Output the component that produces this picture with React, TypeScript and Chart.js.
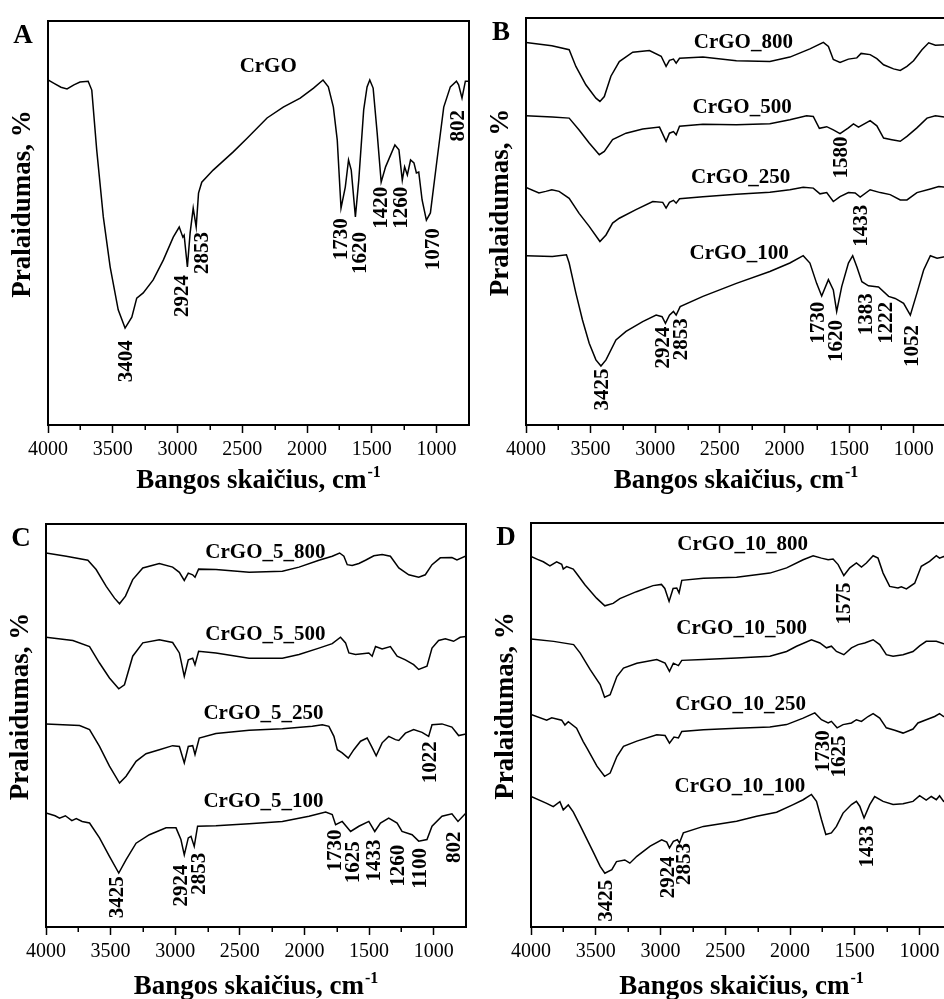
import React, { useEffect, useRef } from "react";
import { Chart, registerables } from "chart.js";

Chart.register(...registerables);

type Pt = [number, number];

// ---------- Panel A ----------
const A_CRGO: Pt[] = [
  [4000, 85.4], [3950, 84.5], [3900, 83.6], [3853, 83.2], [3800, 84.2], [3753, 84.9], [3690, 85.1], [3662, 82.9],
  [3624, 68.1], [3573, 51.5], [3520, 39.1], [3458, 28.5], [3405, 24.0], [3353, 26.7], [3315, 31.4],
  [3265, 32.7], [3188, 35.9], [3110, 40.8], [3033, 46.5], [2987, 49.0], [2959, 46.5], [2949, 47.0],
  [2924, 39.1], [2903, 47.5], [2879, 53.7], [2856, 49.0], [2838, 57.4], [2813, 60.1], [2725, 63.1],
  [2570, 67.6], [2463, 71.0], [2309, 76.0], [2184, 78.7], [2053, 80.9], [1950, 83.4], [1877, 85.4],
  [1836, 83.7], [1797, 78.7], [1767, 70.5], [1738, 53.7], [1705, 58.9], [1680, 65.6], [1659, 63.1],
  [1627, 51.5], [1601, 60.6], [1563, 78.0], [1537, 83.7], [1516, 85.4], [1490, 83.4], [1459, 72.3],
  [1428, 60.1], [1394, 63.9], [1322, 69.3], [1291, 68.1], [1265, 60.6], [1247, 63.9], [1226, 61.9],
  [1201, 65.6], [1175, 64.9], [1156, 62.4], [1138, 62.6], [1112, 55.7], [1079, 50.7], [1048, 52.5],
  [997, 65.6], [945, 78.7], [894, 83.7], [847, 85.1], [830, 84.2], [804, 80.9], [778, 85.1], [750, 85.1],
];

// ---------- Panel B ----------
const B_800: Pt[] = [
  [4000, 94.0], [3800, 93.2], [3666, 92.2], [3614, 88.1], [3537, 83.6], [3459, 80.3], [3428, 79.5],
  [3394, 80.7], [3343, 85.7], [3278, 89.3], [3174, 91.6], [3045, 92.0], [2954, 90.6], [2916, 88.1],
  [2890, 89.6], [2859, 89.9], [2838, 88.9], [2812, 90.1], [2631, 90.4], [2372, 89.5], [2113, 89.3],
  [1958, 90.4], [1803, 92.4], [1699, 94.0], [1660, 93.0], [1622, 89.8], [1570, 89.1], [1505, 89.9],
  [1440, 90.2], [1407, 91.3], [1337, 91.0], [1285, 90.0], [1233, 88.5], [1156, 87.5], [1104, 87.1],
  [1052, 88.1], [1001, 89.5], [936, 92.2], [884, 93.9], [832, 93.3], [750, 93.4],
];
const B_500: Pt[] = [
  [4000, 76.0], [3796, 75.7], [3666, 75.4], [3589, 72.5], [3511, 69.3], [3433, 66.4], [3394, 67.2],
  [3330, 70.1], [3226, 71.7], [3097, 72.7], [2967, 73.2], [2916, 69.7], [2890, 71.7], [2859, 72.1],
  [2838, 71.3], [2812, 73.4], [2631, 73.9], [2372, 73.8], [2113, 74.0], [1958, 75.0], [1829, 76.0],
  [1777, 75.8], [1730, 72.9], [1673, 73.3], [1622, 72.5], [1570, 71.6], [1505, 73.0], [1466, 74.0],
  [1427, 73.2], [1337, 74.8], [1285, 73.5], [1233, 70.5], [1169, 70.1], [1104, 69.7], [1052, 70.9],
  [975, 73.0], [897, 75.4], [832, 76.0], [750, 75.6],
];
const B_250: Pt[] = [
  [4000, 58.4], [3900, 57.0], [3847, 57.4], [3800, 57.8], [3744, 57.4], [3666, 55.7], [3589, 52.0],
  [3511, 48.8], [3428, 45.1], [3381, 46.7], [3330, 49.6], [3278, 50.8], [3149, 52.9], [3019, 54.9],
  [2942, 54.7], [2916, 53.3], [2890, 54.7], [2859, 55.2], [2838, 54.5], [2812, 55.6], [2631, 56.1],
  [2372, 56.7], [2113, 57.2], [1958, 57.8], [1855, 58.4], [1777, 58.2], [1725, 56.8], [1673, 57.1],
  [1622, 54.9], [1570, 56.1], [1505, 57.1], [1453, 57.0], [1414, 56.0], [1337, 57.8], [1259, 57.1],
  [1182, 56.6], [1104, 55.3], [1052, 55.3], [975, 57.1], [871, 58.0], [806, 58.6], [750, 58.4],
];
const B_100: Pt[] = [
  [4000, 41.6], [3796, 41.4], [3687, 41.8], [3666, 39.8], [3614, 32.4], [3563, 25.8], [3511, 20.1],
  [3459, 16.0], [3420, 14.5], [3381, 16.0], [3304, 20.9], [3226, 23.0], [3097, 25.4], [2993, 27.0],
  [2947, 26.6], [2921, 25.0], [2890, 27.0], [2859, 27.9], [2838, 27.0], [2807, 29.1], [2631, 31.6],
  [2372, 34.8], [2113, 37.7], [1958, 39.8], [1855, 41.6], [1803, 39.8], [1751, 34.8], [1712, 31.7],
  [1660, 35.7], [1622, 33.2], [1596, 27.9], [1557, 34.0], [1505, 39.8], [1472, 41.6], [1440, 38.9],
  [1401, 35.2], [1350, 34.2], [1272, 33.9], [1194, 31.6], [1143, 31.1], [1078, 29.9], [1026, 27.0],
  [975, 32.4], [923, 38.1], [871, 41.6], [819, 41.0], [750, 41.4],
];

// ---------- Panel C ----------
const C_800: Pt[] = [
  [4000, 92.8], [3843, 92.0], [3676, 91.0], [3612, 88.7], [3534, 84.5], [3470, 81.6], [3431, 80.2],
  [3385, 82.1], [3329, 86.2], [3251, 89.1], [3123, 90.2], [3020, 89.3], [2968, 88.0], [2930, 86.0],
  [2899, 87.8], [2865, 87.4], [2847, 86.8], [2819, 88.8], [2685, 88.7], [2428, 88.0], [2171, 88.3],
  [2042, 89.3], [1888, 91.0], [1785, 92.0], [1728, 92.8], [1695, 92.0], [1669, 89.9], [1631, 89.7],
  [1579, 90.2], [1528, 91.0], [1463, 92.1], [1399, 92.4], [1335, 92.0], [1270, 89.1], [1193, 87.4],
  [1116, 86.8], [1065, 87.4], [1013, 89.9], [949, 91.6], [859, 91.7], [820, 91.1], [750, 92.1],
];
const C_500: Pt[] = [
  [4000, 71.9], [3792, 71.1], [3663, 69.6], [3586, 65.5], [3509, 61.8], [3437, 59.1], [3393, 60.1],
  [3329, 67.2], [3251, 70.5], [3123, 71.3], [3020, 70.6], [2968, 68.0], [2930, 62.2], [2899, 66.3],
  [2865, 66.7], [2847, 65.1], [2819, 68.4], [2685, 68.0], [2428, 66.7], [2171, 66.7], [2042, 67.6],
  [1888, 69.2], [1785, 70.3], [1721, 71.9], [1682, 70.5], [1656, 68.0], [1605, 67.6], [1502, 68.0],
  [1476, 67.2], [1450, 69.6], [1399, 69.0], [1335, 69.6], [1283, 67.2], [1219, 66.3], [1155, 65.1],
  [1116, 63.9], [1052, 64.7], [1013, 69.2], [962, 71.1], [910, 71.5], [846, 70.9], [795, 71.9],
  [750, 72.1],
];
const C_250: Pt[] = [
  [4000, 50.4], [3740, 50.0], [3663, 49.0], [3586, 44.8], [3509, 39.9], [3431, 35.7], [3380, 37.4],
  [3303, 41.1], [3226, 43.0], [3123, 44.0], [3020, 45.0], [2968, 44.8], [2930, 40.7], [2899, 44.8],
  [2865, 45.0], [2847, 42.8], [2814, 46.9], [2685, 48.0], [2428, 48.8], [2171, 49.2], [1939, 49.8],
  [1862, 50.2], [1811, 49.8], [1772, 47.3], [1746, 44.0], [1708, 43.2], [1661, 41.9], [1618, 44.0],
  [1566, 46.1], [1515, 46.9], [1481, 44.8], [1445, 42.5], [1399, 45.7], [1348, 47.3], [1296, 46.5],
  [1270, 46.3], [1219, 48.1], [1155, 49.0], [1090, 48.3], [1039, 47.3], [1013, 50.2], [936, 50.4],
  [859, 49.6], [807, 47.5], [750, 47.9],
];
const C_100: Pt[] = [
  [4000, 28.3], [3930, 27.6], [3895, 27.0], [3850, 27.6], [3800, 26.4], [3766, 26.9], [3720, 26.2],
  [3663, 25.8], [3586, 22.1], [3509, 17.5], [3437, 13.4],
  [3380, 16.7], [3303, 20.8], [3200, 22.9], [3071, 24.6], [2994, 24.6], [2956, 21.7], [2930, 17.9],
  [2899, 22.1], [2878, 22.5], [2853, 20.0], [2827, 25.0], [2685, 25.1], [2428, 25.6], [2171, 26.2],
  [1965, 27.5], [1836, 28.5], [1785, 27.9], [1759, 25.4], [1708, 26.2], [1643, 23.7], [1579, 25.0],
  [1502, 26.2], [1456, 23.7], [1412, 25.8], [1348, 27.0], [1283, 25.8], [1245, 23.7], [1167, 22.9],
  [1116, 21.3], [1052, 21.7], [1013, 25.0], [936, 27.5], [859, 28.1], [812, 26.2], [750, 28.3],
];

// ---------- Panel D ----------
const D_800: Pt[] = [
  [4000, 91.7], [3950, 91.0], [3905, 90.4], [3854, 89.4], [3802, 90.4], [3763, 89.8], [3751, 88.6],
  [3725, 89.2], [3674, 88.6], [3648, 87.5], [3584, 84.7], [3494, 81.4], [3430, 79.5], [3366, 80.1],
  [3314, 81.3], [3186, 83.0], [3058, 84.5], [2993, 84.8], [2967, 83.8], [2934, 80.6], [2903, 83.8],
  [2875, 83.9], [2857, 82.7], [2836, 85.8], [2669, 86.3], [2413, 86.6],
  [2156, 87.6], [2027, 88.9], [1899, 90.9], [1822, 91.9], [1758, 91.3], [1706, 90.9], [1668, 91.1],
  [1629, 89.7], [1585, 87.0], [1539, 88.9], [1488, 90.1], [1449, 89.1], [1411, 90.1], [1359, 91.9],
  [1321, 91.3], [1282, 87.6], [1231, 84.3], [1167, 83.9], [1141, 84.2], [1102, 83.7], [1038, 85.1],
  [987, 89.3], [923, 90.5], [871, 91.9], [846, 91.3], [815, 91.7], [750, 91.5],
];
const D_500: Pt[] = [
  [4000, 71.3], [3825, 70.7], [3671, 69.9], [3620, 67.8], [3543, 63.7], [3466, 60.0], [3432, 56.9],
  [3389, 57.5], [3337, 62.0], [3286, 64.1], [3183, 65.3], [3029, 66.2], [2965, 65.3], [2931, 63.3],
  [2901, 65.3], [2862, 64.7], [2836, 66.0], [2669, 66.2], [2413, 66.6], [2156, 67.0], [2027, 68.2],
  [1950, 69.5], [1835, 71.1], [1770, 70.3], [1719, 69.1], [1681, 69.5], [1642, 68.2], [1585, 67.4],
  [1526, 69.1], [1475, 69.9], [1424, 70.3], [1359, 71.1], [1308, 69.9], [1257, 67.4], [1205, 67.0],
  [1128, 67.4], [1051, 68.2], [1000, 69.6], [949, 70.7], [871, 70.7], [815, 70.1], [750, 70.3],
];
const D_250: Pt[] = [
  [4000, 52.6], [3879, 51.2], [3840, 51.8], [3763, 51.2], [3738, 50.0], [3712, 50.8], [3648, 49.2],
  [3597, 45.9], [3568, 44.3], [3491, 39.8],
  [3432, 37.3], [3389, 38.1], [3337, 42.2], [3286, 44.7], [3183, 46.0], [3029, 47.6], [2965, 47.4],
  [2931, 45.5], [2896, 47.0], [2862, 46.8], [2836, 48.4], [2669, 48.8], [2413, 49.2], [2156, 49.5],
  [2027, 50.1], [1899, 51.7], [1809, 53.0], [1758, 51.3], [1706, 50.5], [1681, 50.9], [1637, 49.3],
  [1591, 50.1], [1526, 50.5], [1488, 51.3], [1449, 50.9], [1398, 52.1], [1359, 52.8], [1308, 51.7],
  [1257, 49.3], [1192, 48.7], [1128, 48.0], [1051, 49.0], [1013, 50.5], [949, 51.3], [884, 52.1],
  [846, 52.8], [815, 52.1], [750, 52.4],
];
const D_100: Pt[] = [
  [4000, 32.3], [3879, 30.6], [3828, 29.8], [3777, 31.0], [3751, 29.0], [3712, 30.2], [3674, 28.5],
  [3622, 25.2], [3520, 18.6], [3466, 15.0], [3430, 13.3], [3376, 14.2], [3340, 16.2], [3276, 16.6],
  [3237, 15.8], [3183, 17.5],
  [3080, 20.0], [2991, 21.6], [2952, 21.0], [2931, 19.6], [2901, 21.2], [2870, 21.6], [2854, 20.8],
  [2824, 23.3], [2669, 24.9], [2413, 26.2], [2258, 27.4], [2104, 28.4], [1976, 30.3], [1899, 31.5],
  [1835, 32.8], [1796, 31.1], [1758, 26.6], [1724, 22.9], [1681, 23.3], [1642, 24.9], [1591, 28.2],
  [1526, 30.3], [1488, 31.1], [1462, 29.9], [1429, 27.0], [1385, 30.3], [1347, 32.3], [1282, 31.1],
  [1205, 30.3], [1128, 30.5], [1051, 31.1], [1000, 32.5], [949, 31.4], [910, 32.3], [871, 31.5],
  [846, 32.5], [815, 31.1], [750, 31.8],
];

// ---------- Axis ticks and titles ----------
const MAJOR_TICKS = [4000, 3500, 3000, 2500, 2000, 1500, 1000];
const MINOR_TICKS = [3750, 3250, 2750, 2250, 1750, 1250];
const X_TITLE = "Bangos skaičius, cm";
const X_TITLE_SUP = "-1";
const Y_TITLE = "Pralaidumas, %";

// ---------- Text labels (text, wavenumber, value) ----------
type Lbl = [string, number, number];

const A_NAMES: Lbl[] = [["CrGO", 2300, 88.7]];
const A_PEAKS: Lbl[] = [
  ["3404", 3397, 21.0], ["2924", 2959, 37.1], ["2853", 2807, 47.8], ["1730", 1730, 51.2],
  ["1620", 1589, 47.8], ["1420", 1427, 59.0], ["1260", 1272, 59.0], ["1070", 1025, 48.7], ["802", 831, 78.0],
];
const B_NAMES: Lbl[] = [
  ["CrGO_800", 2318, 93.9], ["CrGO_500", 2328, 78.1], ["CrGO_250", 2339, 60.8], ["CrGO_100", 2351, 42.2],
];
const B_PEAKS: Lbl[] = [
  ["1580", 1557, 70.9], ["1433", 1402, 54.1], ["3425", 3407, 13.9], ["2924", 2934, 24.2],
  ["2853", 2794, 26.2], ["1730", 1738, 30.3], ["1620", 1596, 25.8], ["1383", 1368, 32.4],
  ["1222", 1208, 30.3], ["1052", 1006, 24.6],
];
const C_NAMES: Lbl[] = [
  ["CrGO_5_800", 2302, 93.0], ["CrGO_5_500", 2302, 72.5], ["CrGO_5_250", 2317, 52.9], ["CrGO_5_100", 2317, 31.2],
];
const C_PEAKS: Lbl[] = [
  ["1022", 1026, 46.1], ["3425", 3444, 12.6], ["2924", 2948, 15.5], ["2853", 2809, 18.4],
  ["1730", 1759, 24.2], ["1625", 1618, 21.3], ["1433", 1456, 21.7], ["1260", 1270, 20.4],
  ["1100", 1103, 19.6], ["802", 838, 23.7],
];
const D_NAMES: Lbl[] = [
  ["CrGO_10_800", 2366, 94.6], ["CrGO_10_500", 2374, 73.8], ["CrGO_10_250", 2382, 55.0], ["CrGO_10_100", 2387, 34.8],
];
const D_PEAKS: Lbl[] = [
  ["1575", 1578, 85.3], ["1730", 1745, 48.7], ["1625", 1616, 47.4], ["1433", 1398, 25.1],
  ["3425", 3414, 11.7], ["2924", 2939, 17.5], ["2853", 2811, 20.8],
];

const FONT = '"Liberation Serif", "Times New Roman", Times, serif';

interface Box { left: number; top: number; right: number; bottom: number }
interface PanelDef {
  letter: string;
  series: Pt[][];
  names: Lbl[];
  peaks: Lbl[];
  canvas: { left: number; top: number; width: number; height: number };
  area: Box;
  titleGap: number;
}

const PANELS: PanelDef[] = [
  {
    letter: "A", series: [A_CRGO], names: A_NAMES, peaks: A_PEAKS,
    canvas: { left: 0, top: 0, width: 474, height: 500 },
    area: { left: 48, top: 21, right: 469, bottom: 425 }, titleGap: 63,
  },
  {
    letter: "B", series: [B_800, B_500, B_250, B_100], names: B_NAMES, peaks: B_PEAKS,
    canvas: { left: 478, top: 0, width: 474, height: 500 },
    area: { left: 526, top: 18, right: 946, bottom: 425 }, titleGap: 63,
  },
  {
    letter: "C", series: [C_800, C_500, C_250, C_100], names: C_NAMES, peaks: C_PEAKS,
    canvas: { left: 0, top: 500, width: 474, height: 499 },
    area: { left: 46, top: 524, right: 466, bottom: 927 }, titleGap: 67,
  },
  {
    letter: "D", series: [D_800, D_500, D_250, D_100], names: D_NAMES, peaks: D_PEAKS,
    canvas: { left: 478, top: 500, width: 480, height: 499 },
    area: { left: 531, top: 523, right: 952, bottom: 927 }, titleGap: 67,
  },
];

function makeOverlay(p: PanelDef) {
  return {
    id: "overlay" + p.letter,
    afterDraw(chart: any) {
      const ctx: CanvasRenderingContext2D = chart.ctx;
      const a = chart.chartArea;
      const xs = chart.scales.x;
      const ys = chart.scales.y;
      ctx.save();
      ctx.fillStyle = "#000";
      ctx.strokeStyle = "#000";

      // minor ticks
      ctx.lineWidth = 1.5;
      ctx.beginPath();
      MINOR_TICKS.forEach((v) => {
        const px = Math.round(xs.getPixelForValue(v)) + 0.25;
        ctx.moveTo(px, a.bottom);
        ctx.lineTo(px, a.bottom + 5);
      });
      ctx.stroke();

      // frame
      ctx.lineWidth = 2;
      ctx.strokeRect(a.left, a.top, a.right - a.left, a.bottom - a.top);

      // panel letter
      ctx.font = `bold 27px ${FONT}`;
      ctx.textAlign = "center";
      ctx.textBaseline = "alphabetic";
      ctx.fillText(p.letter, a.left - 25, a.top + 22);

      // y title
      ctx.save();
      ctx.translate(a.left - 25, (a.top + a.bottom) / 2 - 19);
      ctx.rotate(-Math.PI / 2);
      ctx.font = `bold 27px ${FONT}`;
      ctx.textAlign = "center";
      ctx.textBaseline = "middle";
      ctx.fillText(Y_TITLE, 0, 0);
      ctx.restore();

      // x title with superscript
      ctx.font = `bold 27px ${FONT}`;
      const w1 = ctx.measureText(X_TITLE).width;
      ctx.font = `bold 16px ${FONT}`;
      const w2 = ctx.measureText(X_TITLE_SUP).width;
      const cx = (a.left + a.right) / 2;
      const x0 = cx - (w1 + w2 + 1) / 2;
      const by = a.bottom + p.titleGap;
      ctx.textAlign = "left";
      ctx.textBaseline = "alphabetic";
      ctx.font = `bold 27px ${FONT}`;
      ctx.fillText(X_TITLE, x0, by);
      ctx.font = `bold 16px ${FONT}`;
      ctx.fillText(X_TITLE_SUP, x0 + w1 + 1, by - 11);

      // series names
      ctx.font = `bold 21px ${FONT}`;
      ctx.textAlign = "center";
      ctx.textBaseline = "middle";
      p.names.forEach(([t, w, v]) => {
        ctx.fillText(t, xs.getPixelForValue(w), ys.getPixelForValue(v));
      });

      // peak labels (rotated)
      p.peaks.forEach(([t, w, v]) => {
        ctx.save();
        ctx.translate(xs.getPixelForValue(w), ys.getPixelForValue(v));
        ctx.rotate(-Math.PI / 2);
        ctx.font = `bold 21px ${FONT}`;
        ctx.textAlign = "right";
        ctx.textBaseline = "middle";
        ctx.fillText(t, 0, 0);
        ctx.restore();
      });

      ctx.restore();
    },
  };
}

function Panel({ p }: { p: PanelDef }) {
  const ref = useRef<HTMLCanvasElement | null>(null);
  useEffect(() => {
    if (!ref.current) return;
    const c = p.canvas;
    const a = p.area;
    const chart = new Chart(ref.current, {
      type: "line",
      data: {
        datasets: p.series.map((s, i) => ({
          label: "s" + i,
          data: s.map(([x, y]) => ({ x, y })),
          borderColor: "#000",
          borderWidth: 1.5,
          pointRadius: 0,
          tension: 0,
          fill: false,
        })),
      },
      options: {
        responsive: false,
        animation: false,
        events: [],
        layout: {
          padding: {
            left: a.left - c.left,
            top: a.top - c.top,
            right: c.left + c.width - a.right,
            bottom: 0,
          },
        },
        plugins: { legend: { display: false }, tooltip: { enabled: false }, title: { display: false } },
        scales: {
          x: {
            type: "linear",
            reverse: true,
            min: 750,
            max: 4000,
            afterBuildTicks: (s: any) => {
              s.ticks = MAJOR_TICKS.map((v) => ({ value: v }));
            },
            afterFit: (s: any) => {
              s.height = c.top + c.height - a.bottom;
            },
            ticks: {
              autoSkip: false,
              maxRotation: 0,
              padding: 5,
              color: "#000",
              font: { family: FONT, size: 20 },
              callback: (v: any) => String(v),
            },
            grid: {
              drawOnChartArea: false,
              drawTicks: true,
              tickLength: 8,
              tickWidth: 1.5,
              tickColor: "#000",
            },
            border: { display: false },
          },
          y: { type: "linear", display: false, min: 0, max: 100 },
        },
      } as any,
      plugins: [makeOverlay(p)],
    });
    return () => chart.destroy();
  }, [p]);
  return (
    <canvas
      ref={ref}
      width={p.canvas.width}
      height={p.canvas.height}
      style={{
        position: "absolute",
        left: p.canvas.left,
        top: p.canvas.top,
        width: p.canvas.width,
        height: p.canvas.height,
        display: "block",
      }}
    />
  );
}

export default function App() {
  return (
    <div
      style={{
        position: "absolute",
        left: 0,
        top: 0,
        width: 944,
        height: 999,
        overflow: "hidden",
        background: "#fff",
      }}
    >
      {PANELS.map((p) => (
        <Panel key={p.letter} p={p} />
      ))}
    </div>
  );
}
